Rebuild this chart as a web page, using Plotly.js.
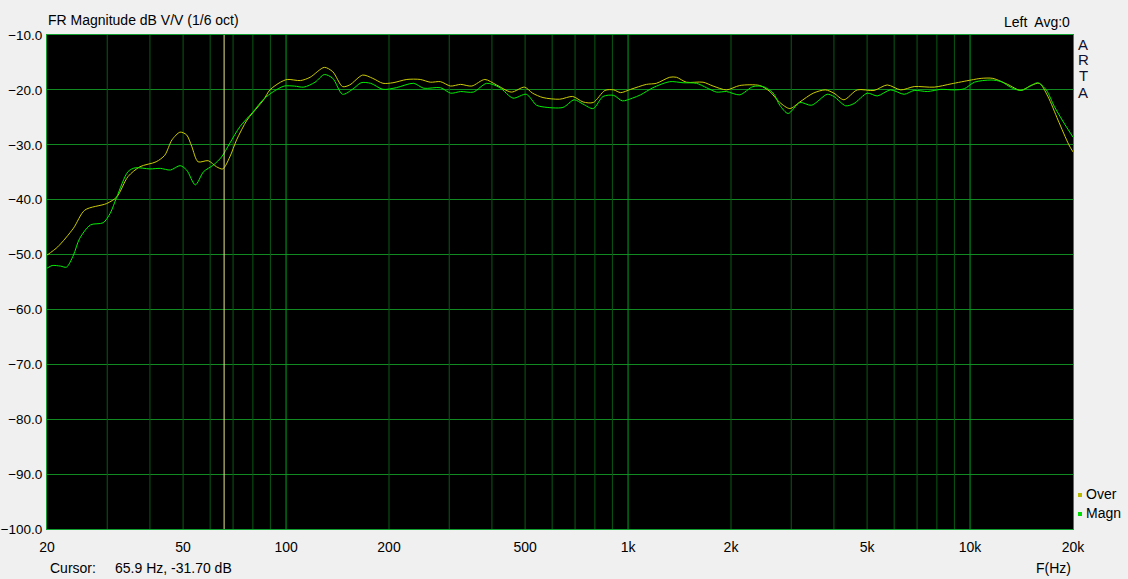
<!DOCTYPE html>
<html>
<head>
<meta charset="utf-8">
<script src="https://cdn.plot.ly/plotly-3.0.1.min.js"></script>
<style>
html,body{margin:0;padding:0;background:#f0f0f0;}
#chart{width:1128px;height:579px;}
</style>
</head>
<body>
<div id="chart"></div>
<script>
// ---- data ----
const overFreq = [20,21.5,23.9,25.8,29.9,32.0,34.5,37.4,41.7,44.2,46.4,49.0,51.2,53.0,55.3,59.2,62.6,65.3,68.5,71.7,76.9,82.7,86,89.7,96.3,100.8,110.3,117.6,129.4,137.0,146.3,153.5,167.5,179.3,192,205.4,225.6,246.8,264.2,282.9,302.7,323.9,349.2,381.3,412.5,456,497.8,525.9,564,631,689,739,791,856,908,951,1018,1131,1210,1324,1385,1482,1657,1773,1940,2122,2427,2597,2778,2972,3180,3479,3779,3999,4278,4680,5238,5728,6272,6866,7855,8805,10070,10780,11660,12880,14090,15080,15950,16890,18080,19450,20000];
const overDb = [-50.1,-48.6,-45.2,-41.9,-40.7,-39.5,-35.8,-34.0,-33.1,-31.9,-29.1,-27.7,-28.2,-30.3,-33.1,-32.9,-34.0,-34.4,-32.2,-29.1,-25.5,-23.1,-21.8,-20.0,-18.6,-18.1,-18.3,-17.7,-15.9,-16.7,-19.4,-19.1,-17.3,-17.9,-18.8,-18.7,-18.1,-18.1,-18.6,-18.5,-19.3,-19.0,-19.3,-18.1,-19.1,-20.4,-19.5,-20.6,-21.4,-21.7,-21.2,-22.2,-22.3,-20.1,-20.0,-20.5,-19.9,-19.0,-18.8,-17.7,-17.7,-18.6,-18.6,-19.3,-20.0,-19.2,-19.2,-20.3,-22.3,-23.4,-22.2,-20.6,-20.0,-20.6,-21.8,-20.0,-20.1,-19.1,-20.0,-19.4,-19.5,-18.9,-18.2,-17.9,-17.9,-19.0,-20.1,-19.2,-18.8,-21.2,-25.5,-30.0,-31.3];

const magnFreq = [20,20.7,21.9,22.8,23.9,24.9,26.8,29.2,30.6,32.0,34.5,36.2,40.0,42.9,45.9,49.0,51.2,54.3,57.4,61.3,64.8,68.5,73.3,80.1,85.9,91.9,98.8,105.7,112.7,121.6,129.4,137.0,146.3,157.2,165.7,176.8,192,210,236,252.7,283,303,324,353,386,422,461,504,540,564,645,696,739,791,845,908,962,1030,1088,1183,1324,1449,1585,1696,1815,1940,2122,2319,2484,2659,2778,2938,3180,3440,3822,3999,4327,4574,5008,5357,5859,6415,6866,7510,8215,8988,9620,10300,11530,12340,13210,14090,15080,15780,16700,17660,18980,20000];
const magnDb = [-52.5,-52.0,-52.1,-52.3,-50.1,-47.1,-44.6,-44.2,-42.5,-39.5,-34.9,-34.2,-34.4,-34.3,-34.6,-33.8,-34.6,-37.3,-34.9,-33.7,-32.2,-29.7,-26.7,-24.0,-21.7,-20.3,-19.3,-19.3,-19.5,-18.6,-17.2,-17.9,-20.8,-19.8,-18.7,-18.8,-19.9,-19.6,-18.8,-19.7,-19.6,-20.6,-20.3,-20.4,-18.8,-19.6,-21.5,-20.8,-22.8,-23.1,-23.2,-21.8,-22.6,-23.4,-21.2,-21.0,-22.0,-21.5,-20.9,-19.6,-18.5,-18.7,-18.8,-19.6,-20.4,-20.3,-20.9,-19.4,-19.4,-20.6,-22.8,-24.3,-22.3,-22.8,-20.8,-21.2,-22.9,-22.5,-20.6,-21.1,-20.0,-20.8,-20.1,-20.3,-19.9,-20.0,-19.8,-18.6,-18.2,-18.5,-19.6,-20.1,-19.2,-18.7,-20.0,-23.1,-26.4,-28.6];

const tickVals = [20,50,100,200,500,1000,2000,5000,10000,20000];
const tickText = ["20","50","100","200","500","1k","2k","5k","10k","20k"];
const minorVals = [30,40,50,60,70,80,90,200,300,400,500,600,700,800,900,2000,3000,4000,5000,6000,7000,8000,9000];
const decadeVals = [100,1000,10000];
const cursorFreq = 65.9;
const cursorDb = -31.70;
const seriesNames = ["Over","Magn"];
const yRange = [-100,-10];

// ---- layout helpers ----
const W = 1128, H = 579, L = 47, R = 1073, T = 35, B = 529;
const px = x => (x - L) / (R - L);
const py = y => (B - y) / (B - T);
const FONT = "Liberation Sans, Arial, sans-serif";
const YEL = "#cccc00", GRN = "#00ee00";

function vlines(vals) {
  const xs = [], ys = [];
  vals.forEach(v => { xs.push(v, v, null); ys.push(yRange[0], yRange[1], null); });
  return {x: xs, y: ys};
}
const minG = vlines(minorVals), decG = vlines(decadeVals);

const traces = [
  {x: minG.x, y: minG.y, mode: "lines", line: {color: "#0a5a14", width: 1}, hoverinfo: "skip", showlegend: false},
  {x: decG.x, y: decG.y, mode: "lines", line: {color: "#00a020", width: 1}, hoverinfo: "skip", showlegend: false},
  {x: overFreq, y: overDb, name: seriesNames[0], mode: "lines", line: {color: YEL, width: 1, shape: "spline", smoothing: 0.8}},
  {x: magnFreq, y: magnDb, name: seriesNames[1], mode: "lines", line: {color: GRN, width: 1, shape: "spline", smoothing: 0.8}},
  {x: [cursorFreq, cursorFreq], y: yRange, mode: "lines", line: {color: "#e4e488", width: 1}, hoverinfo: "skip", showlegend: false}
];

const ann = (text, x, y, xanchor, size, color) => ({
  text: text, xref: "paper", yref: "paper", x: px(x), y: py(y),
  xanchor: xanchor || "left", yanchor: "middle", showarrow: false,
  font: {family: FONT, size: size || 14, color: color || "#000"}
});

const annotations = [
  ann("Left  Avg:0", 1072, 22, "right"),
  ann("A", 1083, 44, "center", 15, "#101030"),
  ann("R", 1083, 60, "center", 15, "#101030"),
  ann("T", 1083, 76, "center", 15, "#101030"),
  ann("A", 1083, 92, "center", 15, "#101030"),
  ann(seriesNames[0], 1084, 494, "left"),
  ann(seriesNames[1], 1084, 513, "left"),
  ann("Cursor:", 48, 568, "left"),
  ann(cursorFreq.toFixed(1) + " Hz, " + cursorDb.toFixed(2) + " dB", 113, 568, "left"),
  ann("F(Hz)", 1073, 568, "right")
];

const shapes = [
  {type: "rect", xref: "paper", yref: "paper", x0: px(1078), x1: px(1082), y0: py(497), y1: py(493), fillcolor: "#b8b800", line: {width: 0}},
  {type: "rect", xref: "paper", yref: "paper", x0: px(1078), x1: px(1082), y0: py(516), y1: py(512), fillcolor: "#00dd00", line: {width: 0}}
];

const layout = {
  width: W, height: H,
  paper_bgcolor: "#f0f0f0", plot_bgcolor: "#000000",
  margin: {l: L, r: W - R, t: T, b: H - B, pad: 0},
  showlegend: false,
  hovermode: false,
  font: {family: FONT, size: 14, color: "#000"},
  title: {text: "FR Magnitude dB V/V (1/6 oct)", xref: "container", yref: "container",
          x: 48 / W, xanchor: "left", y: 1 - 20 / H, yanchor: "middle",
          font: {family: FONT, size: 14, color: "#000"}},
  xaxis: {
    type: "log", range: [Math.log10(20), Math.log10(20000)],
    tickmode: "array", tickvals: tickVals, ticktext: tickText,
    showgrid: false,
    ticks: "", ticklabelstandoff: 5,
    showline: true, mirror: true, linecolor: "#10a030", linewidth: 1,
    zeroline: false,
    tickfont: {family: FONT, size: 14, color: "#000"}
  },
  yaxis: {
    range: yRange, dtick: 10, tick0: -100, tickformat: ".1f",
    showgrid: true, gridcolor: "#118a22", gridwidth: 1,
    ticks: "", ticklabelstandoff: 1,
    showline: true, mirror: true, linecolor: "#10a030", linewidth: 1,
    zeroline: false,
    tickfont: {family: FONT, size: 13.5, color: "#000"}
  },
  annotations: annotations,
  shapes: shapes
};

Plotly.newPlot("chart", traces, layout, {displayModeBar: false, staticPlot: true});
</script>
</body>
</html>
